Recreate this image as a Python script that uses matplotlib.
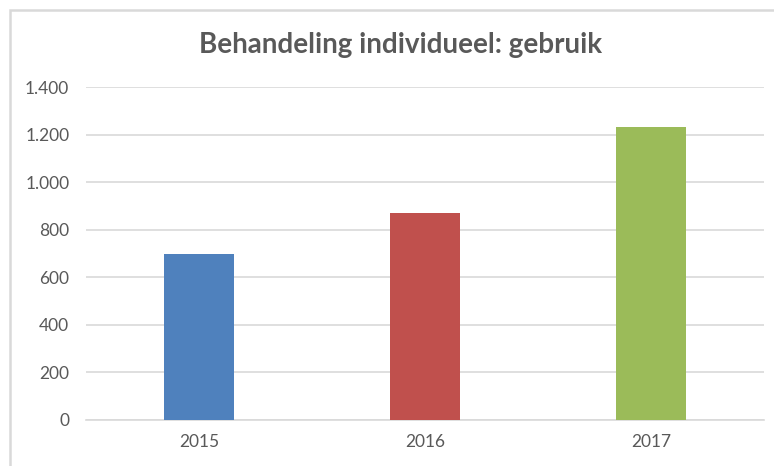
import matplotlib.pyplot as plt
from matplotlib.patches import Rectangle
from matplotlib.ticker import FuncFormatter

years = ['2015', '2016', '2017']
usage = [697, 870, 1233]
colors = ['#4F81BD', '#C0504D', '#9BBB59']
yticks = [0, 200, 400, 600, 800, 1000, 1200, 1400]

plt.rcParams['font.family'] = ['Lato', 'DejaVu Sans']
TXT = '#595959'
GRID = '#d9d9d9'

fig = plt.figure(figsize=(7.74, 4.66), dpi=100)
ax = fig.add_axes([86 / 774, 46 / 466, 678 / 774, 333 / 466])

x = range(len(years))
ax.bar(x, usage, width=0.314, color=colors, zorder=3)

ax.set_xlim(-0.5, len(years) - 0.5)
ax.set_ylim(0, 1400)
ax.set_yticks(yticks)
ax.yaxis.set_major_formatter(FuncFormatter(lambda v, p: f'{v:,.0f}'.replace(',', '.')))
ax.set_xticks(list(x))
ax.set_xticklabels(years)
ax.tick_params(axis='both', length=0, labelsize=12.5, labelcolor=TXT)
ax.tick_params(axis='y', pad=12)
ax.tick_params(axis='x', pad=10)
ax.grid(axis='y', color=GRID, lw=1.2, zorder=0)
for s in ['top', 'right', 'left']:
    ax.spines[s].set_visible(False)
ax.spines['bottom'].set_color(GRID)
ax.spines['bottom'].set_linewidth(1.2)

# chart frame
fig.patches.append(Rectangle((10 / 774, -0.05), 1.1, (466 - 10) / 466 + 0.05,
                             transform=fig.transFigure, fill=False,
                             edgecolor='#d9d9d9', lw=1.8))

fig.text(401 / 774, 1 - 45 / 466, 'Behandeling individueel: gebruik',
         ha='center', va='center', fontsize=20, fontweight='bold', color=TXT)

fig.savefig('out.png', dpi=100)
